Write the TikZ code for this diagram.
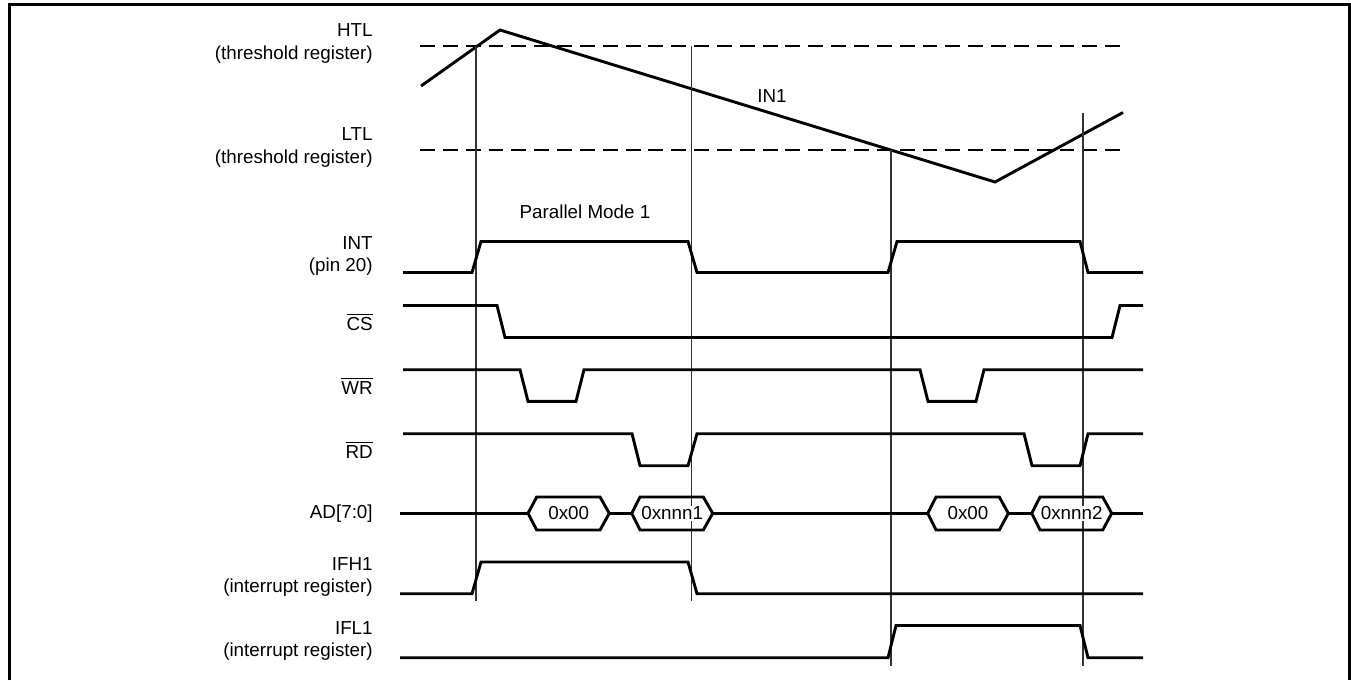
\documentclass[tikz,border=0pt]{standalone}
\usepackage{fontspec}
\setmainfont{Liberation Sans}
\begin{document}
\begin{tikzpicture}[x=0.02cm,y=-0.02cm,
  lbl/.style={anchor=east,align=right,inner sep=0pt,font=\fontsize{10.7}{13}\selectfont},
  txt/.style={inner sep=0pt,font=\fontsize{10.7}{13}\selectfont},
  bustxt/.style={inner sep=0.6pt,fill=white,font=\fontsize{10.7}{13}\selectfont},
  sig/.style={line width=1.65pt,line join=miter},
  thr/.style={line width=1.5pt,dash pattern=on 8.5pt off 4.5pt},
  mark line/.style={line width=0.75pt,black!80},
  frame/.style={line width=1.7pt}]
\useasboundingbox (0,0) rectangle (1351,680);
% frame (open at bottom)
\draw[frame] (9.5,680) -- (9.5,4.6) -- (1349.5,4.6) -- (1349.5,680);

% labels
\node[lbl] (lhtl) at (373,43.5) {HTL\\(threshold register)};
\node[lbl] (lltl) at (373,147.5) {LTL\\(threshold register)};
\node[lbl] (lint) at (373,256) {INT\\(pin 20)};
\node[lbl] (lcs) at (373,322) {$\overline{\hbox{CS}}$};
\node[lbl] (lwr) at (373,386) {$\overline{\hbox{WR}}$};
\node[lbl] (lrd) at (373,450) {$\overline{\hbox{RD}}$};
\node[lbl] (lad) at (373,513.5) {AD[7:0]};
\node[lbl] (lifh) at (373,577) {IFH1\\(interrupt register)};
\node[lbl] (lifl) at (373,641) {IFL1\\(interrupt register)};
\node[txt] (pm) at (585,212) {Parallel Mode 1};
\node[txt] (in1) at (772,96) {IN1};

% thresholds
\draw[thr] (420,46) -- (1120,46);
\draw[thr] (420,150) -- (1120,150);

% IN1 waveform
\draw[sig] (421,86) -- (500,30) -- (995,182) -- (1123,112.5);

% marker lines
\draw[mark line] (476,46) -- (476,601);
\draw[mark line] (691.5,46) -- (691.5,601);
\draw[mark line] (891,150) -- (891,666);
\draw[mark line] (1083,113) -- (1083,666);

% INT
\draw[sig] (403,272.5) -- (472,272.5) -- (481,241.5) -- (688,241.5) -- (697,272.5)
  -- (888,272.5) -- (897,241.5) -- (1080,241.5) -- (1088,272.5) -- (1143,272.5);
% CS
\draw[sig] (403,305.5) -- (497,305.5) -- (505,337.5) -- (1112,337.5) -- (1120,305.5) -- (1143,305.5);
% WR
\draw[sig] (403,369.7) -- (520,369.7) -- (528,401.3) -- (576,401.3) -- (584,369.7)
  -- (920,369.7) -- (928,401.3) -- (976,401.3) -- (984,369.7) -- (1143,369.7);
% RD
\draw[sig] (403,433.7) -- (632,433.7) -- (640,465.7) -- (688,465.7) -- (697,433.7)
  -- (1024,433.7) -- (1032,465.7) -- (1080,465.7) -- (1088,433.7) -- (1143,433.7);
% AD bus
\draw[sig] (400,513.3) -- (528,513.3);
\draw[sig] (609.3,513.3) -- (631.7,513.3);
\draw[sig] (712.7,513.3) -- (927.7,513.3);
\draw[sig] (1008.3,513.3) -- (1031.7,513.3);
\draw[sig] (1111.7,513.3) -- (1143,513.3);
\foreach \a/\b/\c/\d in {528/536.7/600/609.3, 631.7/640/703.3/712.7, 927.7/936/999.3/1008.3, 1031.7/1040/1102.7/1111.7}
  \draw[sig] (\a,513.3) -- (\b,497) -- (\c,497) -- (\d,513.3) -- (\c,530) -- (\b,530) -- cycle;
\node[bustxt] (b1) at (568.7,513.5) {0x00};
\node[bustxt] (b2) at (672.2,513.5) {0xnnn1};
\node[bustxt] (b3) at (968,513.5) {0x00};
\node[bustxt] (b4) at (1071.7,513.5) {0xnnn2};
% IFH1
\draw[sig] (400,593.7) -- (472,593.7) -- (481,562) -- (688,562) -- (697,593.7) -- (1143,593.7);
% IFL1
\draw[sig] (400,657.7) -- (888,657.7) -- (896,625.5) -- (1080,625.5) -- (1088,657.7) -- (1143,657.7);
\end{tikzpicture}
\end{document}
